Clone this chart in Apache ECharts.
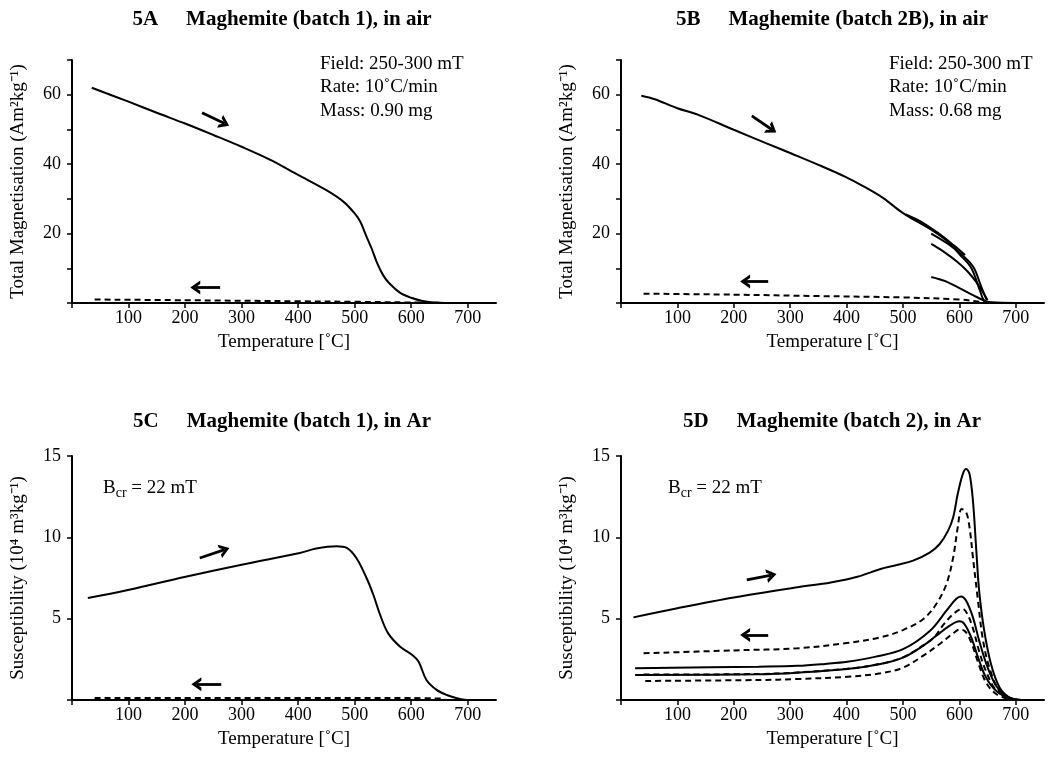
<!DOCTYPE html>
<html>
<head>
<meta charset="utf-8">
<script src="https://cdn.jsdelivr.net/npm/echarts@6/dist/echarts.min.js"></script>
<style>
  html, body { margin: 0; padding: 0; background: #fff; }
  #chart { width: 1052px; height: 757px; }
</style>
</head>
<body>
<div id="chart"></div>
<script>
// [temperature, value] pairs
const aHeat = [[35,62.0],[100,58.0],[150,54.8],[200,51.7],[250,48.4],[300,45.0],[350,41.3],[400,36.9],[450,32.5],[480,29.2],[500,25.8],[510,23.4],[520,19.5],[530,15.7],[540,11.4],[550,8.1],[560,5.9],[580,3.0],[600,1.5],[620,0.6],[650,0.1],[700,0]];
const aCool = [[40,1.0],[200,0.8],[400,0.5],[500,0.35],[600,0.15],[650,0.05]];

const bHeat = [[36,59.7],[60,58.7],[100,56.1],[137,54.2],[200,49.9],[258,46.0],[303,43.0],[350,39.8],[397,36.4],[430,33.6],[465,30.2],[500,25.9],[550,21.1],[580,17.6],[601,13.9],[621,10.1],[636,3.8],[645,0.5],[657,0.2],[700,0]];
const bCool = [[40,2.7],[200,2.4],[350,2.0],[500,1.6],[600,1.0],[640,0.3],[660,0]];
const bCycle1 = [[505,25.5],[530,23.6],[560,20.4],[590,16.6],[610,13.8]];
const bCycle2 = [[550,20.0],[580,17.0],[605,13.8],[625,10.3],[638,5.0],[648,1.0]];
const bCycle3 = [[550,17.0],[570,15.0],[595,12.0],[615,9.0],[630,6.0],[642,3.0],[650,0.8]];
const bCycle4 = [[550,7.5],[575,6.3],[600,4.3],[625,2.2],[645,0.6],[655,0.2]];

const cHeat = [[28,6.27],[101,6.78],[199,7.56],[300,8.32],[403,9.04],[432,9.31],[468,9.45],[486,9.35],[503,8.73],[521,7.5],[533,6.47],[545,5.24],[559,4.11],[580,3.29],[602,2.77],[613,2.36],[627,1.23],[645,0.62],[663,0.31],[686,0.06],[698,0]];
const cCool = [[40,0.12],[200,0.12],[400,0.12],[600,0.12],[660,0.08]];

const dHeat = [[22,5.08],[100,5.64],[200,6.3],[313,6.93],[372,7.23],[419,7.58],[460,8.05],[489,8.3],[518,8.57],[548,9.08],[565,9.59],[580,10.41],[589,11.23],[597,12.66],[606,13.89],[612,14.2],[618,13.89],[624,12.25],[630,9.18],[635,6.72],[644,4.26],[656,2.21],[671,0.78],[688,0.16],[706,0]];
const dCool1 = [[40,2.87],[200,3.05],[313,3.18],[400,3.5],[460,3.85],[500,4.3],[536,4.98],[559,5.9],[577,7.13],[589,8.77],[597,10.6],[604,11.74],[612,11.54],[618,10.6],[624,8.77],[633,6.1],[641,3.85],[653,2.0],[671,0.57],[694,0.06]];
const dHeat2 = [[25,1.95],[244,2.05],[313,2.1],[362,2.22],[401,2.35],[450,2.65],[501,3.14],[548,4.26],[577,5.49],[594,6.21],[603,6.37],[612,6.1],[624,5.08],[635,3.65],[650,2.0],[665,0.88],[682,0.27],[703,0]];
const dCool2 = [[40,1.56],[244,1.6],[401,1.92],[460,2.23],[501,2.64],[536,3.36],[555,3.85],[571,4.6],[588,5.25],[600,5.55],[606,5.6],[614,5.3],[624,4.4],[635,3.0],[648,1.7],[665,0.6],[688,0.1]];
const dHeat3 = [[25,1.54],[244,1.58],[313,1.68],[401,1.9],[460,2.21],[501,2.62],[536,3.34],[559,3.95],[583,4.57],[600,4.84],[609,4.67],[621,3.85],[633,2.62],[647,1.39],[665,0.57],[688,0.12],[710,0]];
const dCool3 = [[43,1.17],[244,1.23],[313,1.29],[401,1.43],[460,1.64],[501,2.0],[536,2.73],[565,3.44],[589,4.1],[600,4.32],[609,4.26],[621,3.54],[633,2.32],[647,1.09],[665,0.37],[688,0.06]];

// heating / cooling arrows, [from, to] in data units
const aArrows = [[[230,54.8],[270,51.7]], [[262,4.5],[218,4.5]]];
const bArrows = [[[232,53.9],[268,49.9]], [[261,6.2],[220,6.2]]];
const cArrows = [[[226,8.73],[270,9.24]], [[264,0.97],[220,0.97]]];
const dArrows = [[[223,7.38],[267,7.68]], [[261,4.0],[220,4.0]]];

const tempTicks = [0,100,200,300,400,500,600,700];
const tempLabels = [100,200,300,400,500,600,700];
const magTicks = [0,10,20,30,40,50,60,70];
const magLabels = [20,40,60];
const susTicks = [0,5,10,15];
const susLabels = [5,10,15];

const FONT = '"Liberation Serif", "Times New Roman", serif';
const chevron = 'path://M0,10 L5,0 L10,10 L7.4,10 L5,4.8 L2.6,10 Z';

const grids = [
  { left: 72, top: 60, right: 556, bottom: 454 },
  { left: 621, top: 60, right: 8, bottom: 454 },
  { left: 72, top: 456, right: 556, bottom: 57 },
  { left: 621, top: 456, right: 8, bottom: 57 }
];

function xAxis(i) {
  return {
    type: 'value', gridIndex: i, min: 0, max: 750,
    name: 'Temperature [˚C]', nameLocation: 'middle', nameGap: 30,
    nameTextStyle: { fontFamily: FONT, fontSize: 19, color: '#000' },
    axisLine: { lineStyle: { color: '#000', width: 2 } },
    axisTick: { length: 5, lineStyle: { color: '#000', width: 1.5 }, customValues: tempTicks },
    axisLabel: { fontFamily: FONT, fontSize: 18, color: '#000', margin: 6, customValues: tempLabels },
    splitLine: { show: false }
  };
}
function yAxis(i, name, max, ticks, labels) {
  return {
    type: 'value', gridIndex: i, min: 0, max: max,
    name: name, nameLocation: 'middle', nameGap: 44,
    nameTextStyle: { fontFamily: FONT, fontSize: 19, color: '#000' },
    axisLine: { lineStyle: { color: '#000', width: 2 } },
    axisTick: { length: 5, lineStyle: { color: '#000', width: 1.5 }, customValues: ticks },
    axisLabel: { fontFamily: FONT, fontSize: 18, color: '#000', margin: 11, customValues: labels },
    splitLine: { show: false }
  };
}

function curve(i, data, dashed, arrows) {
  const s = {
    type: 'line', xAxisIndex: i, yAxisIndex: i, data: data,
    showSymbol: false, smooth: 0.35, silent: true,
    lineStyle: { color: '#000', width: 2, type: dashed ? [6, 4] : 'solid' }
  };
  if (arrows) {
    s.markLine = {
      silent: true, symbol: ['none', chevron], symbolSize: [14, 10],
      label: { show: false },
      lineStyle: { color: '#000', width: 2.8, type: 'solid' },
      data: arrows.map(a => [{ coord: a[0] }, { coord: a[1] }])
    };
  }
  return s;
}

const magName = 'Total Magnetisation (Am²kg⁻¹)';
const susName = 'Susceptibility (10⁴ m³kg⁻¹)';

function title(x, y, tag, text) {
  return {
    type: 'text', x: x, y: y,
    style: {
      text: '{a|' + tag + '}{b|' + text + '}',
      align: 'center', verticalAlign: 'middle', fill: '#000',
      rich: {
        a: { fontFamily: FONT, fontWeight: 'bold', fontSize: 21 },
        b: { fontFamily: FONT, fontWeight: 'bold', fontSize: 21, padding: [0, 0, 0, 28] }
      }
    }
  };
}
function note(x, y, text) {
  return {
    type: 'text', x: x, y: y,
    style: { text: text, fontFamily: FONT, fontSize: 19, fill: '#000', verticalAlign: 'middle' }
  };
}
function bcr(x, y) {
  return {
    type: 'text', x: x, y: y,
    style: {
      text: '{b|B}{s|cr}{b| = 22 mT}', verticalAlign: 'middle', fill: '#000',
      rich: {
        b: { fontFamily: FONT, fontSize: 19, verticalAlign: 'bottom' },
        s: { fontFamily: FONT, fontSize: 14, verticalAlign: 'bottom', padding: [0, 0, -3, 0] }
      }
    }
  };
}

const option = {
  animation: false,
  backgroundColor: '#fff',
  grid: grids,
  xAxis: [xAxis(0), xAxis(1), xAxis(2), xAxis(3)],
  yAxis: [
    yAxis(0, magName, 70, magTicks, magLabels),
    yAxis(1, magName, 70, magTicks, magLabels),
    yAxis(2, susName, 15, susTicks, susLabels),
    yAxis(3, susName, 15, susTicks, susLabels)
  ],
  series: [
    curve(0, aHeat, false, aArrows),
    curve(0, aCool, true),
    curve(1, bHeat, false, bArrows),
    curve(1, bCool, true),
    curve(1, bCycle1, false),
    curve(1, bCycle2, false),
    curve(1, bCycle3, false),
    curve(1, bCycle4, false),
    curve(2, cHeat, false, cArrows),
    curve(2, cCool, true),
    curve(3, dHeat, false, dArrows),
    curve(3, dCool1, true),
    curve(3, dHeat2, false),
    curve(3, dCool2, true),
    curve(3, dHeat3, false),
    curve(3, dCool3, true)
  ],
  graphic: [
    title(282, 20, '5A', 'Maghemite (batch 1), in air'),
    title(832, 20, '5B', 'Maghemite (batch 2B), in air'),
    title(282, 422, '5C', 'Maghemite (batch 1), in Ar'),
    title(832, 422, '5D', 'Maghemite (batch 2), in Ar'),
    note(320, 64, 'Field: 250-300 mT'),
    note(320, 87, 'Rate: 10˚C/min'),
    note(320, 111, 'Mass: 0.90 mg'),
    note(889, 64, 'Field: 250-300 mT'),
    note(889, 87, 'Rate: 10˚C/min'),
    note(889, 111, 'Mass: 0.68 mg'),
    bcr(103, 488),
    bcr(668, 488)
  ]
};

const myChart = echarts.init(document.getElementById('chart'));
myChart.setOption(option);
</script>
</body>
</html>
